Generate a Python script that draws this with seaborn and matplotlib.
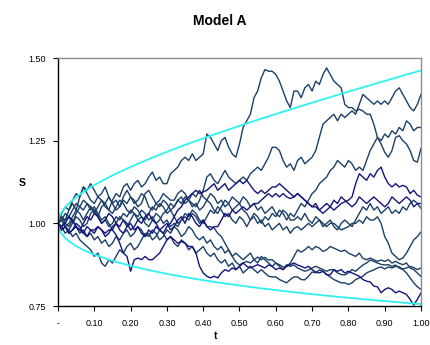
import numpy as np
import pandas as pd
import matplotlib
matplotlib.use("Agg")
import matplotlib.pyplot as plt
import seaborn as sns

# ---------------- data ----------------
t_grid = np.round(np.linspace(0, 1, 101), 2)

path_a = [1.00, 1.02, 1.01, 1.04, 1.06, 1.04, 1.08, 1.11, 1.09, 1.07,
          1.06, 1.08, 1.07, 1.05, 1.04, 1.07, 1.09, 1.08, 1.11, 1.12,
          1.10, 1.12, 1.13, 1.11, 1.12, 1.14, 1.155, 1.13, 1.14, 1.12,
          1.12, 1.15, 1.16, 1.17, 1.19, 1.20, 1.19, 1.21, 1.19, 1.20,
          1.21, 1.27, 1.26, 1.24, 1.22, 1.25, 1.26, 1.23, 1.21, 1.20,
          1.24, 1.29, 1.31, 1.33, 1.38, 1.40, 1.44, 1.465, 1.46, 1.46,
          1.45, 1.43, 1.40, 1.37, 1.35, 1.40, 1.40, 1.38, 1.41, 1.42,
          1.40, 1.43, 1.42, 1.45, 1.47, 1.45, 1.43, 1.42, 1.41, 1.36,
          1.35, 1.35, 1.34, 1.345, 1.34, 1.33, 1.33, 1.30, 1.26, 1.24,
          1.215, 1.20, 1.22, 1.26, 1.265, 1.25, 1.24, 1.22, 1.19, 1.185,
          1.227]

path_b = [1.00, 0.99, 1.01, 1.02, 1.00, 1.03, 1.05, 1.04, 1.06, 1.05,
          1.03, 1.05, 1.07, 1.06, 1.08, 1.06, 1.04, 1.05, 1.07, 1.06,
          1.08, 1.07, 1.05, 1.06, 1.09, 1.10, 1.08, 1.06, 1.07, 1.09,
          1.08, 1.07, 1.07, 1.09, 1.10, 1.09, 1.07, 1.06, 1.05, 1.07,
          1.10, 1.14, 1.15, 1.13, 1.12, 1.14, 1.16, 1.14, 1.13, 1.12,
          1.13, 1.14, 1.13, 1.15, 1.16, 1.17, 1.16, 1.18, 1.20, 1.23,
          1.23, 1.22, 1.19, 1.17, 1.18, 1.16, 1.19, 1.20, 1.18, 1.19,
          1.20, 1.22, 1.26, 1.30, 1.31, 1.32, 1.33, 1.31, 1.33, 1.32,
          1.33, 1.34, 1.33, 1.36, 1.39, 1.38, 1.37, 1.36, 1.37, 1.36,
          1.37, 1.36, 1.38, 1.40, 1.41, 1.39, 1.37, 1.35, 1.34, 1.36,
          1.39]

path_c = [1.00, 1.01, 0.99, 0.98, 1.00, 1.02, 1.01, 0.99, 1.00, 1.03,
          1.04, 1.02, 1.05, 1.06, 1.04, 1.03, 1.05, 1.07, 1.06, 1.04,
          1.03, 1.05, 1.04, 1.02, 1.01, 1.03, 1.05, 1.04, 1.06, 1.05,
          1.03, 1.04, 1.02, 1.00, 1.01, 1.03, 1.02, 1.04, 1.03, 1.01,
          1.00, 1.02, 1.04, 1.03, 1.05, 1.04, 1.02, 1.03, 1.01, 1.00,
          1.02, 1.01, 0.99, 1.01, 1.03, 1.02, 1.00, 1.02, 1.01, 1.03,
          1.02, 1.04, 1.03, 1.01, 1.03, 1.02, 1.04, 1.06, 1.05, 1.07,
          1.09, 1.10, 1.12, 1.13, 1.14, 1.16, 1.17, 1.19, 1.18, 1.17,
          1.19, 1.18, 1.16, 1.17, 1.16, 1.19, 1.22, 1.24, 1.26, 1.25,
          1.27, 1.26, 1.28, 1.27, 1.29, 1.28, 1.31, 1.30, 1.28, 1.29,
          1.29]

path_g = [1.00, 1.03, 1.05, 1.04, 1.07, 1.09, 1.08, 1.11, 1.10, 1.12,
          1.10, 1.08, 1.09, 1.11, 1.08, 1.06, 1.07, 1.05, 1.08, 1.10,
          1.08, 1.06, 1.07, 1.09, 1.08, 1.05, 1.04, 1.06, 1.05, 1.07,
          1.06, 1.04, 1.05, 1.07, 1.06, 1.08, 1.07, 1.05, 1.06, 1.04,
          1.05, 1.07, 1.06, 1.04, 1.03, 1.05, 1.07, 1.06, 1.04, 1.05,
          1.06, 1.04, 1.03, 1.01, 1.02, 1.00, 1.01, 0.99, 1.00, 0.98,
          0.99, 1.00, 0.98, 0.99, 0.97, 0.985, 0.99, 0.98, 0.99, 1.00,
          0.99, 1.00, 1.01, 1.00, 0.99, 1.00, 1.00, 0.99, 0.98, 0.985,
          0.99, 1.00, 1.00, 1.01, 1.00, 1.02, 1.01, 1.01, 1.02, 1.00,
          0.96, 0.94, 0.91, 0.90, 0.89, 0.895, 0.91, 0.93, 0.95, 0.96,
          0.974]

path_h = [1.00, 1.01, 1.03, 1.02, 1.04, 1.06, 1.05, 1.07, 1.06, 1.04,
          1.05, 1.03, 1.01, 1.02, 1.00, 0.98, 1.00, 1.02, 1.01, 0.99,
          1.01, 1.03, 1.02, 1.04, 1.03, 1.01, 1.02, 1.00, 1.01, 1.03,
          1.04, 1.06, 1.05, 1.07, 1.08, 1.06, 1.07, 1.09, 1.08, 1.10,
          1.08, 1.07, 1.09, 1.08, 1.06, 1.07, 1.05, 1.06, 1.08, 1.07,
          1.06, 1.08, 1.07, 1.05, 1.06, 1.04, 1.05, 1.03, 1.04, 1.05,
          1.03, 1.02, 1.04, 1.03, 1.01, 1.01, 1.02, 1.01, 1.03, 1.01,
          1.00, 1.02, 1.01, 0.99, 1.00, 1.01, 0.99, 0.98, 1.00, 1.01,
          1.00, 0.99, 1.01, 1.03, 1.05, 1.04, 1.06, 1.04, 1.05, 1.03,
          1.04, 1.05, 1.03, 1.04, 1.03, 1.05, 1.04, 1.06, 1.07, 1.06,
          1.045]

path_i = [1.00, 1.02, 1.00, 0.99, 1.01, 0.99, 0.97, 0.98, 0.96, 0.97,
          0.95, 0.96, 0.94, 0.95, 0.93, 0.94, 0.96, 0.95, 0.97, 0.98,
          0.96, 0.97, 0.99, 0.98, 0.96, 0.97, 0.95, 0.96, 0.98, 0.97,
          0.95, 0.96, 0.94, 0.93, 0.95, 0.94, 0.92, 0.93, 0.91, 0.92,
          0.93, 0.91, 0.90, 0.91, 0.89, 0.88, 0.89, 0.87, 0.88, 0.86,
          0.87, 0.85, 0.86, 0.87, 0.86, 0.85, 0.86, 0.85, 0.84, 0.838,
          0.838, 0.83, 0.825, 0.82, 0.83, 0.838, 0.838, 0.83, 0.829, 0.84,
          0.853, 0.85, 0.859, 0.855, 0.845, 0.838, 0.83, 0.825, 0.82, 0.82,
          0.815, 0.82, 0.83, 0.835, 0.84, 0.85, 0.855, 0.859, 0.865, 0.868,
          0.862, 0.868, 0.865, 0.87, 0.868, 0.862, 0.865, 0.87, 0.866, 0.86,
          0.865]

path_j = [1.00, 1.01, 0.99, 1.00, 1.02, 1.04, 1.03, 1.01, 1.03, 1.05,
          1.04, 1.02, 1.00, 1.01, 0.99, 1.00, 1.02, 1.01, 1.03, 1.02,
          1.04, 1.03, 1.01, 1.02, 1.00, 0.99, 1.01, 1.03, 1.02, 1.00,
          1.01, 0.99, 1.00, 0.99, 1.01, 1.02, 1.01, 1.03, 1.02, 1.00,
          1.01, 0.99, 0.99, 0.986, 0.97, 0.96, 0.94, 0.92, 0.90, 0.883,
          0.874, 0.88, 0.885, 0.88, 0.89, 0.898, 0.89, 0.897, 0.889, 0.89,
          0.88, 0.875, 0.868, 0.87, 0.88, 0.90, 0.92, 0.913, 0.92, 0.93,
          0.92, 0.93, 0.925, 0.915, 0.92, 0.93, 0.925, 0.92, 0.915, 0.919,
          0.91, 0.905, 0.90, 0.91, 0.894, 0.89, 0.895, 0.89, 0.885, 0.889,
          0.885, 0.89, 0.88, 0.885, 0.879, 0.875, 0.88, 0.865, 0.86, 0.85,
          0.839]

path_k = [1.00, 0.99, 0.97, 0.98, 0.96, 0.97, 0.95, 0.94, 0.93, 0.92,
          0.90, 0.91, 0.88, 0.87, 0.89, 0.88, 0.90, 0.92, 0.91, 0.93,
          0.94, 0.92, 0.93, 0.95, 0.97, 0.96, 0.98, 0.97, 0.95, 0.96,
          0.98, 0.97, 0.99, 0.98, 0.96, 0.97, 0.99, 0.98, 0.96, 0.95,
          0.96, 0.94, 0.95, 0.93, 0.92, 0.93, 0.91, 0.92, 0.90, 0.91,
          0.90, 0.89, 0.90, 0.91, 0.89, 0.88, 0.90, 0.89, 0.88, 0.87,
          0.88, 0.87, 0.86, 0.875, 0.87, 0.874, 0.865, 0.86, 0.855, 0.859,
          0.865, 0.87, 0.865, 0.86, 0.855, 0.86, 0.859, 0.85, 0.845, 0.844,
          0.85, 0.86, 0.855, 0.865, 0.874, 0.88, 0.889, 0.885, 0.88, 0.876,
          0.874, 0.875, 0.87, 0.874, 0.865, 0.86, 0.85, 0.835, 0.82, 0.808,
          0.80]

path_l = [1.00, 0.98, 0.99, 0.97, 0.98, 1.00, 0.99, 0.97, 0.96, 0.98,
          0.97, 0.99, 0.98, 0.96, 0.97, 0.99, 1.00, 0.98, 0.97, 0.99,
          1.00, 0.98, 0.99, 0.97, 0.96, 0.98, 0.97, 0.99, 0.98, 0.97,
          0.99, 1.00, 1.02, 1.04, 1.05, 1.07, 1.08, 1.09, 1.10, 1.09,
          1.095, 1.10, 1.11, 1.12, 1.10, 1.11, 1.12, 1.10, 1.11, 1.12,
          1.13, 1.12, 1.13, 1.115, 1.10, 1.09, 1.10, 1.09, 1.10, 1.11,
          1.11, 1.12, 1.11, 1.10, 1.09, 1.08, 1.09, 1.08, 1.07, 1.06,
          1.05, 1.05, 1.04, 1.05, 1.06, 1.05, 1.04, 1.05, 1.06, 1.065,
          1.07, 1.08, 1.12, 1.15, 1.14, 1.13, 1.15, 1.14, 1.16, 1.17,
          1.14, 1.12, 1.11, 1.12, 1.11, 1.115, 1.11, 1.09, 1.10, 1.085,
          1.08]

path_m = [1.00, 0.99, 1.00, 1.02, 1.01, 0.99, 0.98, 1.00, 1.02, 1.01,
          1.03, 1.02, 1.00, 1.01, 1.03, 1.02, 1.00, 0.99, 1.01, 1.00,
          0.98, 0.99, 1.01, 1.00, 1.02, 1.03, 1.01, 1.00, 0.98, 0.99,
          1.00, 0.98, 0.99, 1.01, 1.02, 1.00, 1.03, 1.02, 1.00, 0.99,
          1.01, 0.99, 0.98, 0.99, 0.99, 1.01, 1.03, 1.02, 1.04, 1.03,
          1.04, 1.05, 1.04, 1.05, 1.06, 1.06, 1.07, 1.08, 1.09, 1.08,
          1.09, 1.08, 1.09, 1.08, 1.075, 1.08, 1.09, 1.08, 1.07, 1.06,
          1.05, 1.06, 1.04, 1.03, 1.04, 1.05, 1.07, 1.06, 1.08, 1.07,
          1.06, 1.05, 1.06, 1.08, 1.07, 1.06, 1.07, 1.08, 1.07, 1.06,
          1.05, 1.06, 1.08, 1.07, 1.06, 1.07, 1.08, 1.07, 1.05, 1.06,
          1.06]

path_e = [1.00, 0.98, 0.99, 0.97, 0.98, 0.99, 0.98, 0.97, 0.99, 0.98,
          0.98, 0.99, 0.98, 0.97, 0.98, 0.98, 0.965, 0.94, 0.91, 0.90,
          0.855, 0.89, 0.895, 0.89, 0.90, 0.89, 0.89, 0.90, 0.91, 0.93,
          0.95, 0.96, 0.95, 0.94, 0.945, 0.94, 0.93, 0.93, 0.91, 0.87,
          0.85, 0.84, 0.835, 0.84, 0.835, 0.85, 0.86, 0.855, 0.865, 0.86,
          0.87, 0.88, 0.87, 0.865, 0.87, 0.875, 0.87, 0.865, 0.874, 0.87,
          0.86, 0.865, 0.86, 0.87, 0.875, 0.88, 0.874, 0.87, 0.865, 0.87,
          0.86, 0.853, 0.85, 0.855, 0.845, 0.844, 0.86, 0.855, 0.86, 0.85,
          0.855, 0.85, 0.845, 0.84, 0.83, 0.825, 0.823, 0.81, 0.808, 0.79,
          0.80, 0.805, 0.80, 0.79, 0.795, 0.79, 0.785, 0.77, 0.753, 0.77,
          0.79]

# confidence envelope (cyan curves)
env_t = [0.0, 0.0025, 0.005, 0.01, 0.02, 0.03, 0.05, 0.075, 0.1, 0.15, 0.2, 0.25,
         0.3, 0.35, 0.4, 0.45, 0.5, 0.55, 0.6, 0.65, 0.7, 0.75, 0.8, 0.85, 0.9,
         0.95, 1.0]
env_upper = [1.000, 1.0168, 1.0239, 1.0341, 1.0488, 1.0604, 1.0793, 1.0988, 1.1157,
             1.1449, 1.1707, 1.1942, 1.2162, 1.2371, 1.2571, 1.2762, 1.2948, 1.3129,
             1.3305, 1.3479, 1.3650, 1.3817, 1.3982, 1.4145, 1.4306, 1.4465, 1.4623]
env_lower = [1.000, 0.9838, 0.9772, 0.9680, 0.9554, 0.9459, 0.9312, 0.9170, 0.9054,
             0.8867, 0.8715, 0.8586, 0.8473, 0.8372, 0.8280, 0.8197, 0.8119, 0.8047,
             0.7980, 0.7917, 0.7858, 0.7801, 0.7748, 0.7697, 0.7649, 0.7602, 0.7558]

x_ticks = [0.0, 0.1, 0.2, 0.3, 0.4, 0.5, 0.6, 0.7, 0.8, 0.9, 1.0]
x_tick_labels = ["-", "0.10", "0.20", "0.30", "0.40", "0.50", "0.60", "0.70",
                 "0.80", "0.90", "1.00"]
y_ticks = [0.75, 1.00, 1.25, 1.50]
y_tick_labels = ["0.75", "1.00", "1.25", "1.50"]
title_text = "Model A"
x_label = "t"
y_label = "S"

# ---------------- styling ----------------
SLATE = "#1B3F68"
NAVY = "#14147C"
CYAN = "#2EF2F2"

paths = {
    "A": (path_a, SLATE), "B": (path_b, SLATE), "C": (path_c, SLATE),
    "G": (path_g, SLATE), "H": (path_h, SLATE), "I": (path_i, SLATE),
    "J": (path_j, SLATE), "K": (path_k, SLATE), "L": (path_l, NAVY),
    "M": (path_m, NAVY), "E": (path_e, NAVY),
}

sns.set_style("white")
plt.rcParams["font.family"] = ["Liberation Sans", "DejaVu Sans"]
plt.rcParams["text.color"] = "black"
plt.rcParams["axes.labelcolor"] = "black"

W, H = 431, 345
fig = plt.figure(figsize=(W / 100, H / 100), dpi=100)
fig.patch.set_facecolor("white")
L0, R0, T0, B0 = 58, 421, 58, 306
ax = fig.add_axes([L0 / W, 1 - B0 / H, (R0 - L0) / W, (B0 - T0) / H])

frames = []
for name, (vals, _c) in paths.items():
    assert len(vals) == len(t_grid), name
    frames.append(pd.DataFrame({"t": t_grid, "S": vals, "path": name}))
df = pd.concat(frames, ignore_index=True)
palette = {k: c for k, (v, c) in paths.items()}

sns.lineplot(data=df, x="t", y="S", hue="path", palette=palette, units="path",
             estimator=None, sort=False, legend=False, linewidth=1.0, ax=ax)

env_df = pd.concat([
    pd.DataFrame({"t": env_t, "S": env_upper, "side": "upper"}),
    pd.DataFrame({"t": env_t, "S": env_lower, "side": "lower"}),
], ignore_index=True)
sns.lineplot(data=env_df, x="t", y="S", units="side", estimator=None, sort=False,
             color=CYAN, linewidth=1.3, legend=False, ax=ax)

ax.set_xlim(0, 1)
ax.set_ylim(0.75, 1.5)
ax.set_xticks(x_ticks)
ax.set_xticklabels(x_tick_labels)
ax.set_yticks(y_ticks)
ax.set_yticklabels(y_tick_labels)
ax.tick_params(axis="both", which="major", direction="out", length=3.5, width=0.8,
               color="black", labelsize=6.5, labelcolor="black")
ax.tick_params(axis="x", pad=6)
ax.tick_params(axis="y", pad=5)
ax.xaxis.set_ticks_position("bottom")
ax.yaxis.set_ticks_position("left")

for side in ["left", "bottom"]:
    ax.spines[side].set_visible(True)
    ax.spines[side].set_color("black")
    ax.spines[side].set_linewidth(1.0)
for side in ["top", "right"]:
    ax.spines[side].set_visible(True)
    ax.spines[side].set_color("#8C8C8C")
    ax.spines[side].set_linewidth(1.0)
ax.grid(False)

ax.set_xlabel(x_label, fontsize=7.5, fontweight="bold", va="center", color="black")
ax.set_ylabel(y_label, fontsize=7.5, fontweight="bold", rotation=0,
              va="center", ha="center", color="black")
ax.xaxis.set_label_coords((216 - L0) / (R0 - L0), -(336 - B0) / (B0 - T0))
ax.yaxis.set_label_coords((22 - L0) / (R0 - L0), (B0 - 183) / (B0 - T0))

fig.text(219.5 / W, 1 - 21 / H, title_text, ha="center", va="center",
         fontsize=10, fontweight="bold", color="black")

fig.savefig("out.png", dpi=100, facecolor="white")
